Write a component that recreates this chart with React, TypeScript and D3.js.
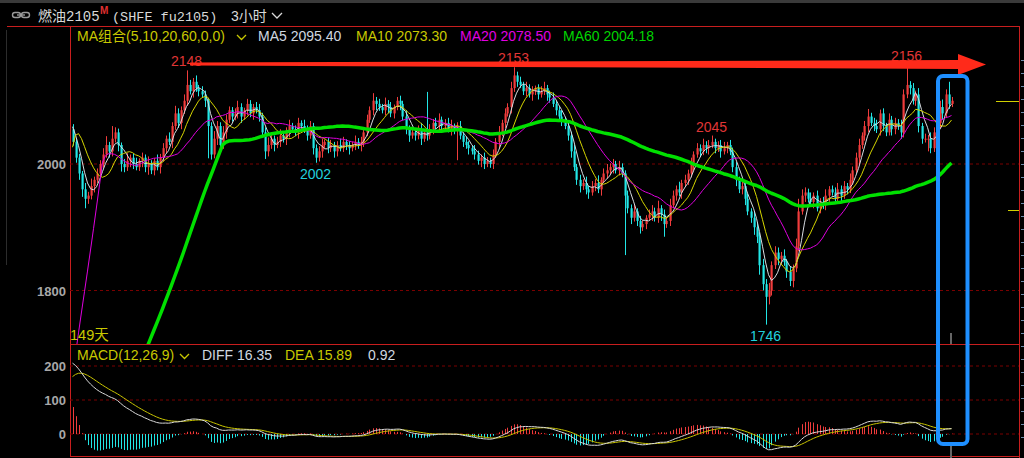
import React from "react";
import * as d3 from "d3";

// ---------- DATA ----------
// closes of each 3-hour bar, left to right
const closes = [
  2035, 2010, 1985, 1960, 1945, 1950, 1965, 1975, 1985, 2000,
  2015, 2030, 2020, 2040, 2050, 2030, 2000, 1995, 2005, 2010,
  2000, 1995, 2005, 2010, 1995, 2000, 1990, 2005, 1995, 2010,
  2025, 2040, 2035, 2060, 2080, 2065, 2085, 2100, 2125, 2115,
  2130, 2120, 2115, 2110, 2100, 2060, 2015, 2040, 2060, 2030,
  2050, 2070, 2085, 2075, 2080, 2090, 2075, 2085, 2095, 2080,
  2090, 2085, 2075, 2050, 2020, 2030, 2040, 2030, 2035, 2045,
  2040, 2050, 2060, 2055, 2050, 2065, 2060, 2055, 2045, 2060,
  2025, 2010, 2020, 2030, 2035, 2025, 2030, 2020, 2030, 2025,
  2035, 2030, 2025, 2030, 2035, 2030, 2035, 2050, 2070, 2085,
  2100, 2095, 2090, 2085, 2095, 2090, 2080, 2090, 2100, 2095,
  2075, 2055, 2045, 2050, 2045, 2055, 2040, 2050, 2045, 2055,
  2065, 2060, 2070, 2060, 2065, 2055, 2060, 2055, 2060, 2045,
  2035, 2030, 2025, 2020, 2015, 2005, 2010, 2000, 2005, 2000,
  2015, 2035, 2050, 2065, 2080, 2090, 2120, 2140, 2130, 2125,
  2115, 2120, 2110, 2115, 2120, 2110, 2115, 2120, 2110, 2105,
  2095, 2085, 2075, 2070, 2060, 2045, 2020, 1995, 1975, 1965,
  1970, 1960, 1955, 1965, 1970, 1960, 1975, 1985, 1990, 1995,
  2000, 1990, 1995, 1985, 1950, 1930, 1915, 1925, 1910, 1900,
  1905, 1915, 1920, 1925, 1915, 1930, 1920, 1905, 1910, 1935,
  1950, 1960, 1955, 1970, 1975, 1985, 2000, 2015, 2025, 2020,
  2030, 2025, 2030, 2035, 2025, 2030, 2020, 2025, 2030, 2020,
  1995, 1975, 1960, 1965, 1945, 1925, 1915, 1900, 1885, 1840,
  1810, 1790, 1800, 1840, 1860, 1850, 1855, 1845, 1830, 1815,
  1835, 1870, 1925, 1950, 1955, 1945, 1940, 1950, 1930, 1940,
  1935, 1950, 1960, 1955, 1945, 1960, 1950, 1965, 1960, 1975,
  1990, 2010, 2030, 2045, 2060, 2075, 2065, 2060, 2055, 2080,
  2060, 2050, 2070, 2055, 2065, 2060, 2050, 2110, 2125, 2120,
  2100, 2110, 2060, 2040, 2040, 2040, 2025, 2050, 2065, 2090,
  2080, 2110, 2095, 2100,
];
// distance from the body top to the high of each bar
const wickUp = [
  8, 5, 6, 4, 10, 6, 12, 5, 8, 6,
  10, 14, 5, 20, 8, 6, 4, 8, 12, 5,
  6, 10, 4, 8, 5, 12, 6, 4, 10, 6,
  8, 5, 10, 6, 12, 8, 6, 10, 23, 8,
  6, 10, 5, 8, 6, 4, 6, 12, 8, 6,
  10, 8, 6, 5, 8, 10, 6, 4, 8, 6,
  5, 8, 10, 6, 8, 12, 6, 5, 8, 10,
  6, 8, 10, 5, 6, 8, 4, 10, 6, 8,
  5, 6, 8, 10, 4, 6, 8, 5, 6, 10,
  8, 4, 6, 5, 10, 6, 8, 5, 8, 6,
  12, 6, 8, 5, 10, 6, 8, 4, 6, 8,
  5, 10, 6, 8, 4, 6, 10, 5, 64, 8,
  6, 8, 10, 5, 6, 8, 10, 4, 6, 8,
  5, 8, 6, 4, 10, 6, 5, 8, 6, 5,
  8, 6, 10, 5, 8, 6, 10, 13, 6, 8,
  5, 10, 6, 8, 4, 6, 8, 10, 5, 6,
  8, 5, 6, 10, 4, 8, 6, 10, 5, 8,
  6, 10, 5, 8, 6, 12, 4, 8, 10, 6,
  8, 5, 10, 6, 5, 8, 6, 10, 5, 8,
  6, 4, 8, 10, 6, 12, 5, 8, 6, 10,
  8, 6, 12, 5, 8, 6, 10, 5, 8, 6,
  10, 6, 8, 10, 5, 6, 8, 10, 5, 8,
  6, 8, 5, 10, 6, 8, 5, 10, 8, 6,
  10, 8, 12, 6, 10, 8, 6, 10, 5, 8,
  6, 12, 20, 10, 8, 6, 10, 5, 8, 6,
  8, 10, 5, 6, 8, 10, 6, 8, 5, 10,
  6, 8, 10, 5, 8, 12, 6, 8, 10, 6,
  8, 5, 10, 6, 8, 6, 10, 8, 31, 6,
  8, 6, 10, 5, 8, 6, 10, 8, 6, 10,
  12, 8, 20, 6,
];
// distance from the body bottom to the low of each bar
const wickDown = [
  6, 8, 10, 12, 15, 8, 6, 10, 5, 8,
  6, 5, 10, 8, 6, 10, 12, 8, 6, 10,
  8, 5, 6, 10, 8, 12, 6, 8, 5, 10,
  6, 8, 5, 10, 6, 8, 10, 6, 8, 5,
  10, 6, 8, 5, 10, 51, 8, 6, 10, 8,
  6, 10, 5, 8, 6, 8, 10, 5, 8, 6,
  10, 5, 8, 6, 12, 8, 6, 10, 5, 8,
  6, 10, 8, 5, 6, 10, 8, 6, 8, 5,
  10, 8, 6, 10, 5, 8, 6, 10, 8, 5,
  6, 8, 10, 5, 8, 6, 10, 8, 6, 5,
  8, 10, 6, 5, 8, 10, 6, 8, 5, 10,
  6, 8, 10, 5, 8, 6, 10, 5, 8, 6,
  8, 5, 10, 6, 8, 5, 10, 8, 49, 6,
  8, 6, 10, 5, 8, 6, 10, 8, 5, 6,
  8, 5, 10, 6, 8, 5, 10, 6, 8, 5,
  6, 8, 5, 10, 6, 8, 5, 6, 10, 8,
  5, 8, 6, 10, 5, 8, 10, 6, 8, 10,
  6, 8, 10, 5, 8, 6, 10, 5, 8, 6,
  10, 5, 8, 6, 94, 8, 10, 6, 8, 10,
  6, 8, 5, 10, 6, 8, 10, 20, 6, 8,
  5, 8, 6, 10, 5, 8, 6, 10, 5, 8,
  6, 8, 10, 5, 8, 6, 10, 5, 8, 6,
  8, 10, 6, 8, 10, 6, 8, 12, 10, 15,
  10, 44, 12, 8, 6, 10, 8, 6, 10, 8,
  10, 6, 8, 5, 10, 6, 8, 10, 5, 8,
  6, 8, 10, 5, 8, 6, 10, 5, 8, 6,
  8, 5, 10, 6, 8, 10, 5, 8, 6, 10,
  8, 6, 5, 10, 8, 6, 10, 8, 6, 10,
  6, 8, 10, 8, 6, 20, 8, 6, 10, 8,
  10, 6, 8, 5,
];
// bars loaded before the first visible bar, and the level of the older history
const hiddenCloses = [1820, 1960, 2040, 2070, 2080, 2075, 2070, 2060, 2055];
const seedPrice = 1300;

const maPeriods = [5, 10, 20, 60];
const maLegend = [
  { name: "MA5", value: "2095.40" },
  { name: "MA10", value: "2073.30" },
  { name: "MA20", value: "2078.50" },
  { name: "MA60", value: "2004.18" },
];
const macdLegend = { diff: "16.35", dea: "15.89", macd: "0.92" };
const priceTicks = [1800, 2000];
const macdTicks = [0, 100, 200];
// bars whose high / low is annotated
const extremeMarks = [
  { i: 38, kind: "high" },
  { i: 81, kind: "low" },
  { i: 147, kind: "high" },
  { i: 213, kind: "high" },
  { i: 231, kind: "low" },
  { i: 278, kind: "high" },
];
const secondaryMarkerPrice = 1927;

// ---------- STYLE ----------
const C = {
  up: "#f03c3c",
  down: "#22e6e6",
  ma: ["#d8dde2", "#d6d600", "#e000e0", "#00e000"],
  maW: [1, 1, 1, 3.5],
  grid: "#7a0000",
  frame: "#c81e1e",
  axis: "#a8a8a8",
  yellow: "#c8c800",
  light: "#d0d8e0",
};
const FONT = "'Liberation Sans', Arial, sans-serif";

export default function App() {
  const n = closes.length;
  const full = [...hiddenCloses, ...closes];
  const h = hiddenCloses.length;
  const opens = closes.map((_, i) => (i === 0 ? hiddenCloses[h - 1] : closes[i - 1]));
  const highs = closes.map((c, i) => Math.max(c, opens[i]) + wickUp[i]);
  const lows = closes.map((c, i) => Math.min(c, opens[i]) - wickDown[i]);

  const L = 70, R = 1019, T = 26, MB = 344, BB = 456;
  const x = d3.scaleLinear().domain([0, n - 1]).range([72.5, 72.5 + 3 * (n - 1)]);
  const y = d3.scaleLinear().domain([1800, 2000]).range([290.5, 164]);
  const ym = d3.scaleLinear().domain([0, 200]).range([434, 366]);

  const maSeries = maPeriods.map((p) =>
    closes.map((_, i) => {
      const j = i + h;
      let s = 0;
      for (let k = j - p + 1; k <= j; k++) s += k >= 0 ? full[k] : seedPrice;
      return s / p;
    })
  );

  let e12 = seedPrice, e26 = seedPrice, dea = 0;
  const macd: { diff: number; dea: number; hist: number }[] = [];
  full.forEach((c, j) => {
    e12 += (2 / 13) * (c - e12);
    e26 += (2 / 27) * (c - e26);
    const diff = e12 - e26;
    dea += (2 / 10) * (diff - dea);
    if (j >= h) macd.push({ diff, dea, hist: 2 * (diff - dea) });
  });

  const line = d3.line<number>().x((_, i) => x(i)).y((d) => y(d));
  const mline = d3.line<number>().x((_, i) => x(i)).y((d) => ym(d));

  const lastY = y(closes[n - 1]);

  return (
    <svg width={1024} height={458} style={{ position: "absolute", left: 0, top: 0, background: "#000", display: "block" }}>
      <defs>
        <clipPath id="mainClip"><rect x={L + 1} y={T + 1} width={R - L - 1} height={MB - T - 1} /></clipPath>
        <clipPath id="macdClip"><rect x={L + 1} y={MB + 1} width={R - L - 1} height={BB - MB - 1} /></clipPath>
      </defs>
      <rect x={0} y={0} width={1024} height={458} fill="#000" />
      <rect x={0} y={0} width={1024} height={3} fill="#3a3a3a" />

      {/* title row */}
      <g fill="none" stroke="#9a9a9a" strokeWidth={1.4}>
        <rect x={12.5} y={12.5} width={8} height={5} rx={2.5} />
        <rect x={21.5} y={12.5} width={8} height={5} rx={2.5} />
        <line x1={17} y1={15} x2={25} y2={15} />
      </g>
      <text x={38} y={20.5} fill="#d8d8d8" fontSize={14} fontFamily="'Liberation Mono', 'Noto Sans CJK SC', monospace">燃油2105</text>
      <text x={100} y={14} fill="#e03030" fontSize={10} fontWeight="bold" fontFamily={FONT}>M</text>
      <text x={112} y={20.5} fill="#d8d8d8" fontSize={13.5} fontFamily="'Liberation Mono', monospace">(SHFE fu2105)</text>
      <text x={231} y={20.5} fill="#d8d8d8" fontSize={14} fontFamily="'Liberation Sans', 'Noto Sans CJK SC', sans-serif">3小时</text>
      <path d="M272,13 l5,5 l5,-5" fill="none" stroke="#d8d8d8" strokeWidth={1.3} />

      {/* frame */}
      <line x1={7} y1={26.5} x2={R} y2={26.5} stroke={C.frame} strokeWidth={1} />
      <line x1={6.5} y1={30} x2={6.5} y2={265} stroke="#2c2c2c" strokeWidth={1} />
      <line x1={L + 0.5} y1={26} x2={L + 0.5} y2={BB} stroke={C.frame} strokeWidth={1} />
      <line x1={R + 0.5} y1={26} x2={R + 0.5} y2={458} stroke={C.frame} strokeWidth={1} />
      <line x1={L} y1={MB + 0.5} x2={R} y2={MB + 0.5} stroke={C.frame} strokeWidth={1} />
      <line x1={L} y1={BB + 0.5} x2={R} y2={BB + 0.5} stroke={C.frame} strokeWidth={1} />

      {/* grid */}
      {priceTicks.map((t) => (
        <g key={"p" + t}>
          <line x1={L} x2={R} y1={y(t)} y2={y(t)} stroke={C.grid} strokeDasharray="3,3" />
          <text x={66} y={y(t) + 5} textAnchor="end" fill={C.axis} fontSize={13} fontWeight="bold" fontFamily={FONT}>{t}</text>
        </g>
      ))}
      {macdTicks.map((t) => (
        <g key={"m" + t}>
          <line x1={L} x2={R} y1={ym(t)} y2={ym(t)} stroke={C.grid} strokeDasharray="3,3" />
          <text x={66} y={ym(t) + 5} textAnchor="end" fill={C.axis} fontSize={13} fontWeight="bold" fontFamily={FONT}>{t}</text>
        </g>
      ))}

      {/* candles */}
      <g clipPath="url(#mainClip)">
        {closes.map((c, i) => {
          const o = opens[i];
          const up = c >= o;
          const col = up ? C.up : C.down;
          const cx = Math.round(x(i)) + 0.5;
          const top = y(Math.max(o, c));
          const bot = y(Math.min(o, c));
          return (
            <g key={i}>
              <line x1={cx} x2={cx} y1={y(highs[i])} y2={y(lows[i])} stroke={col} strokeWidth={1} />
              <rect x={cx - 1} y={top} width={2.2} height={Math.max(1, bot - top)} fill={col} />
            </g>
          );
        })}
        {maSeries.map((s, k) => (
          <path key={k} d={line(s) || ""} fill="none" stroke={C.ma[k]} strokeWidth={C.maW[k]} strokeLinejoin="round" />
        ))}
      </g>

      {/* extreme labels */}
      {extremeMarks.map((m) => {
        const v = m.kind === "high" ? highs[m.i] : lows[m.i];
        return (
          <text key={m.i} x={x(m.i)} y={m.kind === "high" ? y(v) - 4 : y(v) + 16} textAnchor="middle"
            fill={m.kind === "high" ? "#e03636" : "#22d0dc"} fontSize={14} fontFamily={FONT}>{v}</text>
        );
      })}

      {/* MA legend */}
      <text x={77} y={41} fill={C.yellow} fontSize={14} fontFamily="'Liberation Sans', 'Noto Sans CJK SC', sans-serif">MA组合(5,10,20,60,0,0)</text>
      <path d="M237,35 l4.5,4.5 l4.5,-4.5" fill="none" stroke={C.yellow} strokeWidth={1.3} />
      {maLegend.map((m, k) => (
        <text key={m.name} x={[258, 356, 460, 563][k]} y={41} fill={[C.light, C.yellow, "#e000e0", "#00d400"][k]} fontSize={14} fontFamily={FONT}>
          {m.name} {m.value}
        </text>
      ))}
      <text x={70} y={340} fill={C.yellow} fontSize={14.5} fontFamily="'Liberation Sans', 'Noto Sans CJK SC', sans-serif">149天</text>

      {/* MACD */}
      <g clipPath="url(#macdClip)">
        {macd.map((d, i) => (
          <line key={i} x1={Math.round(x(i)) + 0.5} x2={Math.round(x(i)) + 0.5} y1={ym(0)} y2={ym(d.hist)}
            stroke={d.hist >= 0 ? C.up : C.down} strokeWidth={1} />
        ))}
        <path d={mline(macd.map((d) => d.dea)) || ""} fill="none" stroke="#c8c400" strokeWidth={1} />
        <path d={mline(macd.map((d) => d.diff)) || ""} fill="none" stroke="#d8d8d8" strokeWidth={1} />
      </g>
      <text x={77} y={360} fill={C.yellow} fontSize={14} fontFamily={FONT}>MACD(12,26,9)</text>
      <path d="M180,354 l4.5,4.5 l4.5,-4.5" fill="none" stroke={C.yellow} strokeWidth={1.3} />
      <text x={202} y={360} fill={C.light} fontSize={14} fontFamily={FONT}>DIFF {macdLegend.diff}</text>
      <text x={285} y={360} fill={C.yellow} fontSize={14} fontFamily={FONT}>DEA {macdLegend.dea}</text>
      <text x={368} y={360} fill={C.light} fontSize={14} fontFamily={FONT}>{macdLegend.macd}</text>

      {/* right side markers */}
      <line x1={996} x2={R} y1={Math.round(lastY) + 0.5} y2={Math.round(lastY) + 0.5} stroke="#d0d000" strokeWidth={1} />
      <line x1={1008} x2={R} y1={Math.round(y(secondaryMarkerPrice)) + 0.5} y2={Math.round(y(secondaryMarkerPrice)) + 0.5} stroke="#d0d000" strokeWidth={1} />
      {d3.range(60, 440, 13).map((yy) => (
        <line key={yy} x1={1021} x2={1024} y1={yy + 0.5} y2={yy + 0.5} stroke="#6a8aa8" strokeWidth={1} />
      ))}
      <line x1={951} x2={951} y1={333} y2={344} stroke="#666" strokeWidth={2} />
      <line x1={951} x2={951} y1={446} y2={458} stroke="#666" strokeWidth={2} />

      {/* annotations */}
      <path d="M190,62.5 L958,60 L958,54 L986,64.5 L958,75 L958,69 L190,65.5 Z" fill="#ff2a1a" />
      <rect x={938} y={76} width={29.5} height={368} rx={5} fill="none" stroke="#1e8fff" strokeWidth={4} />
    </svg>
  );
}
